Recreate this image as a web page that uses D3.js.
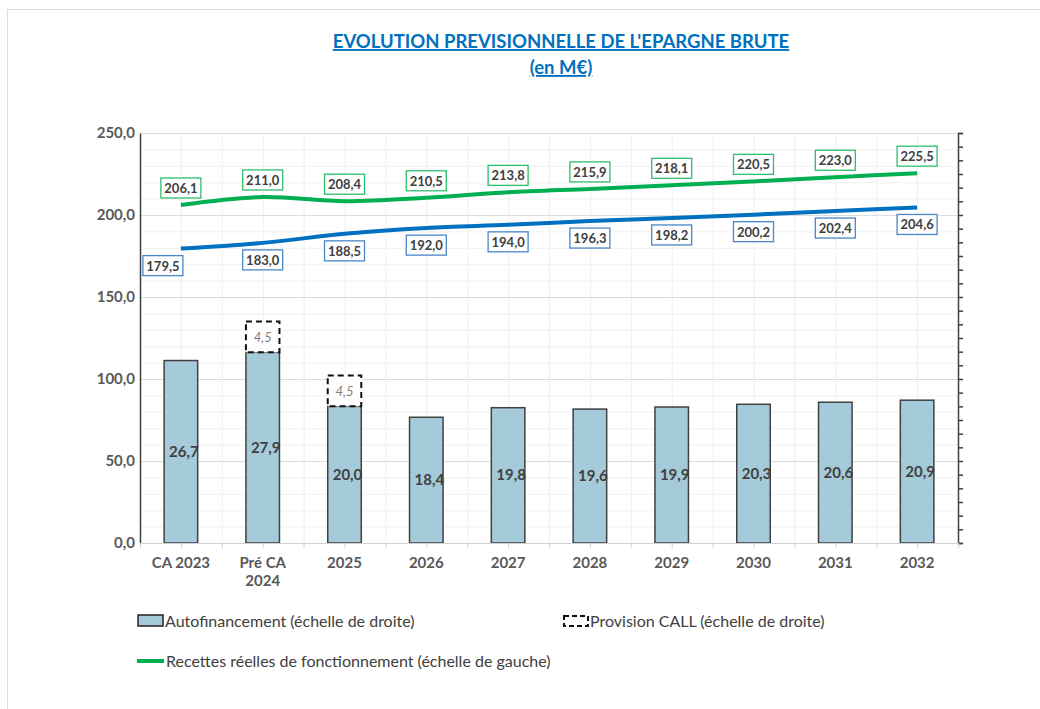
<!DOCTYPE html>
<html>
<head>
<meta charset="utf-8">
<script src="https://cdn.jsdelivr.net/npm/d3@7"></script>
<style>
  body { margin: 0; background: #fff; font-family: Lato, "Open Sans", sans-serif; overflow: hidden; }
  svg text { font-family: Lato, "Open Sans", sans-serif; }
</style>
</head>
<body>
<div id="chart"></div>
<script>
// data
var years = ["CA 2023", "Pré CA 2024", "2025", "2026", "2027", "2028", "2029", "2030", "2031", "2032"];
var autofinancement = [26.7, 27.9, 20.0, 18.4, 19.8, 19.6, 19.9, 20.3, 20.6, 20.9];
var provisionCall = [null, 4.5, 4.5, null, null, null, null, null, null, null];
var recettes = [206.1, 211.0, 208.4, 210.5, 213.8, 215.9, 218.1, 220.5, 223.0, 225.5];
var depenses = [179.5, 183.0, 188.5, 192.0, 194.0, 196.3, 198.2, 200.2, 202.4, 204.6];
var leftTicks = [0, 50, 100, 150, 200, 250];

var W = 1040, H = 709;
var margin = {top: 133, right: 82, bottom: 166, left: 140},
    width = W - margin.left - margin.right,
    height = H - margin.top - margin.bottom;

var fmt = function(v) { return d3.format(".1f")(v).replace(".", ","); };

var svg = d3.select("#chart").append("svg")
    .attr("width", W)
    .attr("height", H);

// outer frame (only top/left edges fall inside the picture)
svg.append("rect")
    .attr("x", 7.5).attr("y", 9.5)
    .attr("width", W + 50).attr("height", H + 50)
    .attr("fill", "none")
    .attr("stroke", "#dedede");

// title
svg.append("text")
    .attr("x", 561).attr("y", 48)
    .attr("text-anchor", "middle")
    .attr("fill", "#0070C0")
    .attr("font-size", 18.5).attr("font-weight", "bold")
    .attr("text-decoration", "underline")
    .text("EVOLUTION PREVISIONNELLE DE L'EPARGNE BRUTE");
svg.append("text")
    .attr("x", 561).attr("y", 74)
    .attr("text-anchor", "middle")
    .attr("fill", "#0070C0")
    .attr("font-size", 18.5).attr("font-weight", "bold")
    .attr("text-decoration", "underline")
    .text("(en M€)");

var g = svg.append("g")
    .attr("transform", "translate(" + margin.left + "," + margin.top + ")");

// scales
var x = d3.scaleBand().domain(years).range([0, width]);
var yLeft = d3.scaleLinear().domain([0, 250]).range([height, 0]);
var yRight = d3.scaleLinear().domain([0, 60]).range([height, 0]);

// faint sheet-like grid
g.append("g").selectAll("line")
    .data(d3.range(0, 250, 10))
    .enter().append("line")
    .attr("x1", 0).attr("x2", width)
    .attr("y1", d => yLeft(d) + 0.5).attr("y2", d => yLeft(d) + 0.5)
    .attr("stroke", "#f0f0f0");
g.append("g").selectAll("line")
    .data(d3.range(0, years.length * 2 + 1))
    .enter().append("line")
    .attr("x1", d => d * x.step() / 2 + 0.5).attr("x2", d => d * x.step() / 2 + 0.5)
    .attr("y1", 0).attr("y2", height)
    .attr("stroke", "#efefef");
// major gridlines
g.append("g").selectAll("line")
    .data(leftTicks.slice(1))
    .enter().append("line")
    .attr("x1", 0).attr("x2", width)
    .attr("y1", d => yLeft(d) + 0.5).attr("y2", d => yLeft(d) + 0.5)
    .attr("stroke", "#dcdcdc");

// bars
var bw = x.bandwidth() * 0.41;
g.selectAll(".bar")
    .data(years)
    .enter().append("rect")
    .attr("class", "bar")
    .attr("x", d => x(d) + (x.bandwidth() - bw) / 2)
    .attr("y", (d, i) => yRight(autofinancement[i]))
    .attr("width", bw)
    .attr("height", (d, i) => height - yRight(autofinancement[i]))
    .attr("fill", "#A5CBDA")
    .attr("stroke", "#404040")
    .attr("stroke-width", 1.5);

g.selectAll(".bar-label")
    .data(years)
    .enter().append("text")
    .attr("class", "bar-label")
    .attr("x", d => x(d) + x.bandwidth() / 2 + 3)
    .attr("y", (d, i) => yRight(autofinancement[i] / 2) + 5)
    .attr("text-anchor", "middle")
    .attr("font-size", 15).attr("font-weight", "bold")
    .attr("fill", "#404040")
    .text((d, i) => fmt(autofinancement[i]));

// provision CALL stacked on top
var prov = years.map((d, i) => ({cat: d, base: autofinancement[i], v: provisionCall[i]}))
    .filter(d => d.v != null);
g.selectAll(".prov")
    .data(prov)
    .enter().append("rect")
    .attr("class", "prov")
    .attr("x", d => x(d.cat) + (x.bandwidth() - bw) / 2)
    .attr("y", d => yRight(d.base + d.v))
    .attr("width", bw)
    .attr("height", d => yRight(d.base) - yRight(d.base + d.v))
    .attr("fill", "#fff")
    .attr("stroke", "#111")
    .attr("stroke-width", 2)
    .attr("stroke-dasharray", "6,4");
g.selectAll(".prov-label")
    .data(prov)
    .enter().append("text")
    .attr("class", "prov-label")
    .attr("x", d => x(d.cat) + x.bandwidth() / 2)
    .attr("y", d => yRight(d.base + d.v / 2) + 5)
    .attr("text-anchor", "middle")
    .attr("font-size", 13).attr("font-style", "italic")
    .attr("fill", "#7f7f7f")
    .text(d => fmt(d.v));

// lines
var lineL = d3.line()
    .x((d, i) => x(years[i]) + x.bandwidth() / 2)
    .y(d => yLeft(d))
    .curve(d3.curveCatmullRom);

g.append("path").datum(depenses)
    .attr("d", lineL)
    .attr("fill", "none")
    .attr("stroke", "#0070C0")
    .attr("stroke-width", 4);
g.append("path").datum(recettes)
    .attr("d", lineL)
    .attr("fill", "none")
    .attr("stroke", "#00B050")
    .attr("stroke-width", 4);

function boxLabels(values, color, dy, cls) {
    var lab = g.selectAll("." + cls)
        .data(values)
        .enter().append("g")
        .attr("class", cls)
        .attr("transform", (d, i) => "translate(" + (x(years[i]) + x.bandwidth() / 2 + (cls == "blab" && i == 0 ? -18 : 0)) + "," + (yLeft(d) + dy) + ")");
    lab.append("rect")
        .attr("x", -20).attr("y", -10)
        .attr("width", 40).attr("height", 20)
        .attr("fill", "#fff")
        .attr("stroke", color)
        .attr("stroke-width", 1.3);
    lab.append("text")
        .attr("y", 5)
        .attr("text-anchor", "middle")
        .attr("font-size", 13).attr("font-weight", "bold")
        .attr("fill", "#404040")
        .text(d => fmt(d));
}
boxLabels(recettes, "#2DBE6C", -17, "glab");
boxLabels(depenses, "#4A86C8", 17, "blab");

// axes
var leftAxis = g.append("g")
    .call(d3.axisLeft(yLeft).tickValues(leftTicks).tickSize(0).tickPadding(6).tickFormat(fmt));
leftAxis.select(".domain").attr("stroke", "#404040").attr("stroke-width", 1.5);
leftAxis.selectAll("text")
    .attr("x", -5)
    .attr("font-size", 15).attr("font-weight", "bold")
    .attr("fill", "#595959");

var rightAxis = g.append("g")
    .attr("transform", "translate(" + width + ",0)")
    .call(d3.axisRight(yRight).tickValues(d3.range(0, 61, 2)).tickSize(5).tickFormat(""));
rightAxis.select(".domain").attr("stroke", "#404040").attr("stroke-width", 1.5);
rightAxis.selectAll(".tick line").attr("stroke", "#404040").attr("stroke-width", 1.5);

var bottom = g.append("g")
    .attr("transform", "translate(0," + height + ")")
    .call(d3.axisBottom(x).tickSize(0).tickPadding(14));
bottom.select(".domain").attr("stroke", "#d0d0d0");
bottom.selectAll("text")
    .attr("font-size", 15).attr("font-weight", "bold")
    .attr("fill", "#595959")
    .each(function(d) {
        if (d.indexOf("Pré") === 0) {
            var t = d3.select(this).text(null);
            t.append("tspan").attr("x", 0).attr("dy", "0.71em").text("Pré CA");
            t.append("tspan").attr("x", 0).attr("dy", "1.2em").text("2024");
        }
    });
// small bottom ticks at centres and boundaries
g.append("g").selectAll("line")
    .data(d3.range(0, years.length * 2 + 1))
    .enter().append("line")
    .attr("x1", d => d * x.step() / 2 + 0.5).attr("x2", d => d * x.step() / 2 + 0.5)
    .attr("y1", height).attr("y2", height + 5)
    .attr("stroke", "#d0d0d0");

// legend
var leg = svg.append("g").attr("font-size", 16).attr("fill", "#404040");
leg.append("rect").attr("x", 138).attr("y", 615).attr("width", 25).attr("height", 11)
    .attr("fill", "#A5CBDA").attr("stroke", "#222").attr("stroke-width", 1.5);
leg.append("text").attr("x", 165).attr("y", 627).attr("fill", "#404040").text("Autofinancement (échelle de droite)");
leg.append("rect").attr("x", 564).attr("y", 616).attr("width", 24).attr("height", 10)
    .attr("fill", "#fff").attr("stroke", "#111").attr("stroke-width", 2).attr("stroke-dasharray", "5,3");
leg.append("text").attr("x", 590).attr("y", 627).attr("fill", "#404040").text("Provision CALL (échelle de droite)");
leg.append("line").attr("x1", 137).attr("x2", 164).attr("y1", 661).attr("y2", 661)
    .attr("stroke", "#00B050").attr("stroke-width", 4);
leg.append("text").attr("x", 166).attr("y", 667).attr("fill", "#404040").text("Recettes réelles de fonctionnement (échelle de gauche)");
</script>
</body>
</html>
